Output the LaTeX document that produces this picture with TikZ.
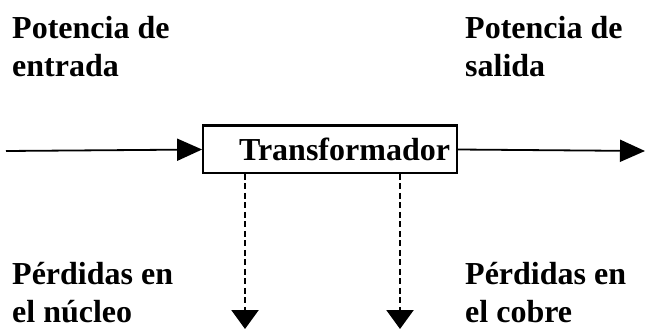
\documentclass[tikz,border=0pt]{standalone}
\usepackage{fontspec}
\setmainfont{Liberation Serif}
\usetikzlibrary{arrows.meta, positioning}

\tikzset{
    label text/.style={anchor=north west, inner sep=0pt, align=left,
        font=\bfseries\fontsize{32}{38}\selectfont},
    flow/.style={line width=1.8pt, -{Triangle[length=25pt,width=22pt]}},
    loss/.style={line width=2.4pt, dash pattern=on 6pt off 3.5pt,
        -{Triangle[length=19pt,width=27pt]}}
}

\begin{document}
\begin{tikzpicture}[x=1pt, y=-1pt]
    \useasboundingbox (0,0) rectangle (645,329);

    % Transformer block
    \node[draw, line width=1.8pt, minimum width=254pt, minimum height=47pt,
          text width=240pt, inner xsep=7pt, align=right,
          font=\bfseries\fontsize{32}{38}\selectfont] (trafo) at (330,149.5) {Transformador};
    \draw[line width=3.2pt] (trafo.north west) -- (trafo.north east);

    % Power in and out
    \coordinate (entrada) at (6,151);
    \coordinate (salida) at (645,151);
    \draw[flow] (entrada) -- (trafo.west);
    \draw[flow] (trafo.east) -- (salida);

    % Losses
    \coordinate (nucleo) at (245,329);
    \coordinate (cobre) at (400,329);
    \draw[loss] (trafo.south -| nucleo) -- (nucleo);
    \draw[loss] (trafo.south -| cobre) -- (cobre);

    % Labels
    \node[label text] (pin) at (12,16) {Potencia de\\entrada};
    \node[label text] (pout) at (465,16) {Potencia de\\salida};
    \node[label text] (pnuc) at (12,262) {Pérdidas en\\el núcleo};
    \node[label text] (pcob) at (465,262) {Pérdidas en\\el cobre};
\end{tikzpicture}
\end{document}
